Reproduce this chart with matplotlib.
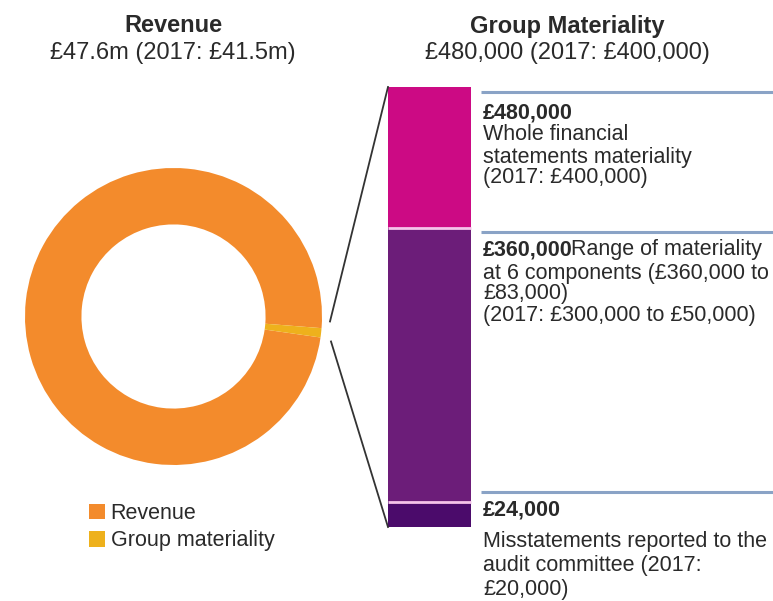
import numpy as np
import matplotlib
matplotlib.use("Agg")
import matplotlib.pyplot as plt

plt.rcParams['font.family'] = ['Liberation Sans', 'DejaVu Sans']

# data
pie_labels = ['Revenue', 'Group materiality']
pie_values = [47.12, 0.48]          # £m, materiality slice out of £47.6m revenue
pie_colors = ['#f38b2c', '#eeb11c']

# stacked band (schematic heights as drawn, top to bottom)
band_names = ['Whole financial statements', 'Component range', 'Misstatements reported']
band_heights = [141, 274, 25]
band_colors = ['#cc0a84', '#6c1d79', '#4b0b6b']

titles = ['Revenue', 'Group Materiality']
subtitles = ['£47.6m (2017: £41.5m)', '£480,000 (2017: £400,000)']

block1 = ['£480,000', 'Whole financial', 'statements materiality', '(2017: £400,000)']
block2_head = ['£360,000', 'Range of materiality']
block2 = ['at 6 components (£360,000 to', '£83,000)', '(2017: £300,000 to £50,000)']
block3 = ['£24,000', 'Misstatements reported to the', 'audit committee (2017:', '£20,000)']

W, H = 773, 601
fig = plt.figure(figsize=(W / 100, H / 100), dpi=100)

# overlay axes in pixel coordinates (y from top)
ax = fig.add_axes([0, 0, 1, 1])
ax.set_xlim(0, W)
ax.set_ylim(H, 0)
ax.axis('off')
ax.patch.set_alpha(0)

# donut
cx, cy, r = 173.5, 316.5, 148.5
ax_pie = fig.add_axes([(cx - r) / W, (H - cy - r) / H, 2 * r / W, 2 * r / H])
wedges, _ = ax_pie.pie(pie_values, colors=pie_colors, startangle=-4.5,
                       counterclock=True, radius=1,
                       wedgeprops=dict(width=0.38, linewidth=0))
ax_pie.set_xlim(-1, 1)
ax_pie.set_ylim(-1, 1)
ax_pie.set_aspect('equal')

# titles
tcol = '#2a2a2a'
for x0, t, s in zip([173, 567], titles, subtitles):
    ax.text(x0, 26, t, ha='center', va='center', fontsize=17, fontweight='bold', color=tcol)
    ax.text(x0, 53, s, ha='center', va='center', fontsize=17, color=tcol)

# stacked bar
bar_x, bar_w, bar_top = 388, 83, 87
bottoms = bar_top + np.concatenate([[0], np.cumsum(band_heights)[:-1]])
ax.bar([bar_x] * len(band_heights), band_heights, bottom=bottoms, width=bar_w,
       align='edge', color=band_colors, linewidth=0)
ax.hlines(bottoms[1:], bar_x, bar_x + bar_w, color='#f6c4ea', lw=2)
bar_bottom = bar_top + sum(band_heights)

# connector lines from donut to bar
gy = cy + r * np.sin(np.radians(5.4))
ax.plot([cx + r + 8, bar_x], [gy - 9, bar_top], color='#333333', lw=1.3)
ax.plot([cx + r + 9, bar_x], [gy + 11, bar_bottom], color='#333333', lw=1.3)

# blue rules
for yl in [92, 232, 492]:
    ax.plot([481, W], [yl, yl], color='#8aa3c6', lw=2.2, solid_capstyle='butt')

tx = 483
fs = 15.5
# block 1
for i, (line, yy) in enumerate(zip(block1, [113, 135, 157, 178])):
    ax.text(tx, yy, line, ha='left', va='center', fontsize=fs, color=tcol,
            fontweight='bold' if i == 0 else 'normal')

# block 2
head = ax.text(tx, 250, block2_head[0], ha='left', va='center', fontsize=fs,
               color=tcol, fontweight='bold')
ax.annotate(block2_head[1], xy=(1, 0.5), xycoords=head, xytext=(-1.5, 0),
            textcoords='offset points', ha='left', va='center',
            fontsize=fs, color=tcol)
for line, yy in zip(block2, [273, 294, 316]):
    ax.text(tx, yy, line, ha='left', va='center', fontsize=fs, color=tcol)

# block 3
for i, (line, yy) in enumerate(zip(block3, [510, 541, 565, 589])):
    ax.text(tx, yy, line, ha='left', va='center', fontsize=fs, color=tcol,
            fontweight='bold' if i == 0 else 'normal')

# legend
fig.legend(wedges, pie_labels, loc='upper left', bbox_to_anchor=(89 / W, 1 - 503 / H),
           frameon=False, fontsize=fs, handlelength=0.75, handleheight=0.75,
           handletextpad=0.25, labelspacing=0.3, borderpad=0, borderaxespad=0,
           labelcolor=tcol)

fig.savefig('out.png', dpi=100)
